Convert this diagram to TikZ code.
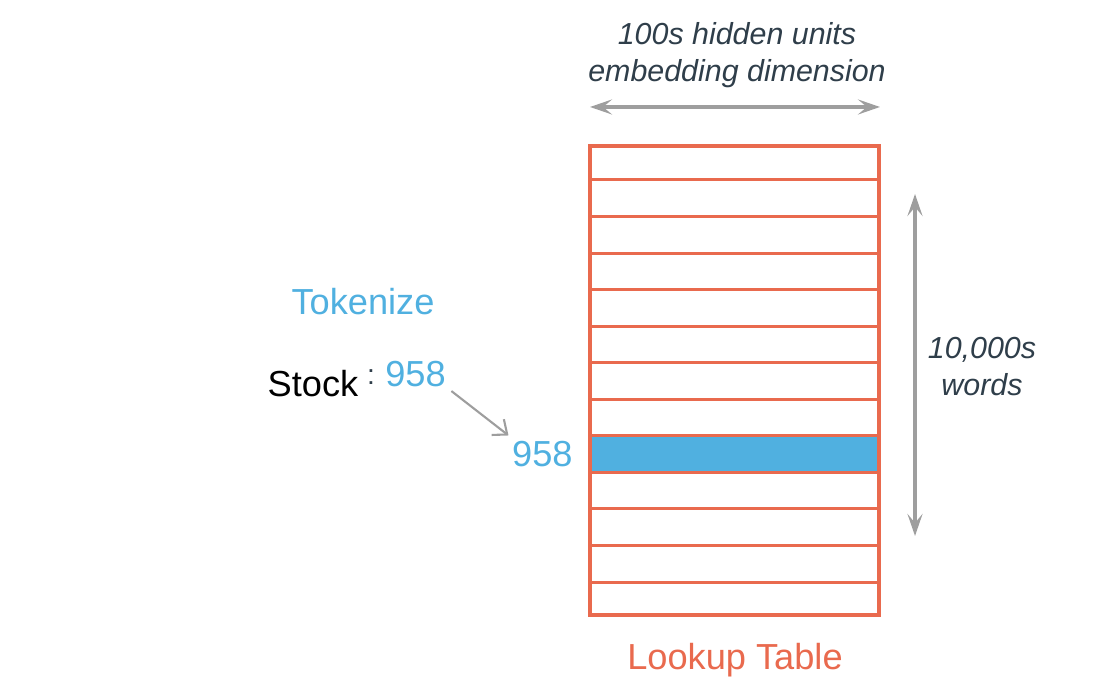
\documentclass[tikz,border=0pt]{standalone}
\usepackage{fontspec}
\setmainfont{Liberation Sans}
\usetikzlibrary{positioning, arrows.meta}
\definecolor{tokblue}{RGB}{80,176,224}
\definecolor{tabred}{RGB}{233,106,78}
\definecolor{dimgray}{RGB}{158,158,158}
\definecolor{labeldark}{RGB}{47,62,74}
\tikzset{
big text/.style={font=\fontsize{10.3}{12.4}\selectfont, inner sep=0pt}, % the upright labels
dim text/.style={font=\fontsize{8.65}{10.5}\selectfont\itshape, text=labeldark, align=center, inner sep=0pt}, % labels of the size arrows
dim arrow/.style={draw=dimgray, line width=1pt, >={Stealth[length=2.2mm, width=1.5mm, inset=0.9mm]}, <->}, % the two size arrows
row line/.style={draw=tabred, line width=0.85pt}, % lines between the rows
}

\begin{document}
\begin{tikzpicture}
        \useasboundingbox (0,0) rectangle (10.97,-6.97);

        % the lookup table
        \node[fill=tokblue, minimum width=2.89cm, minimum height=0.365cm, inner sep=0pt] (hit) at (7.345,-4.54) {};
        \foreach \i in {1,...,12}
            \draw[row line] (5.90,{-1.80-(\i-1)*0.3655}) -- (8.79,{-1.80-(\i-1)*0.3655});
        \node[draw=tabred, line width=1.25pt, minimum width=2.89cm, minimum height=4.69cm, inner sep=0pt] (table) at (7.345,-3.805) {};
        \node[big text, text=tabred, anchor=base] (name) at (7.35,-6.70) {Lookup Table};

        % tokenizing
        \node[big text, text=tokblue, anchor=base] (tokenize) at (3.63,-3.15) {Tokenize};
        \node[big text, anchor=base] (word) at (3.13,-3.97) {Stock};
        \node[font=\fontsize{8}{9}\selectfont, text=labeldark, inner sep=0pt, anchor=base] (colon) at (3.71,-3.85) {:};
        \node[big text, text=tokblue, anchor=base] (tok) at (4.155,-3.87) {958};
        \node[big text, text=tokblue, left=0.16cm of hit] (idx) {958};
        \draw[draw=dimgray, line width=0.6pt, -{Straight Barb[length=1.2mm, width=2mm]}] ([shift={(0.05,-0.03)}]tok.south east) -- ([shift={(-0.03,0.05)}]idx.north west);

        % sizes
        \coordinate (dimL) at (5.90,-1.07);
        \coordinate (dimR) at (8.80,-1.07);
        \coordinate (vocT) at (9.15,-1.94);
        \coordinate (vocB) at (9.15,-5.36);
        \draw[dim arrow] (dimL) -- (dimR);
        \draw[dim arrow] (vocT) -- (vocB);
        \node[dim text] (dimlabel) at (7.37,-0.555) {100s hidden units\\embedding dimension};
        \node[dim text] (voclabel) at (9.82,-3.665) {10,000s\\words};
\end{tikzpicture}
\end{document}
